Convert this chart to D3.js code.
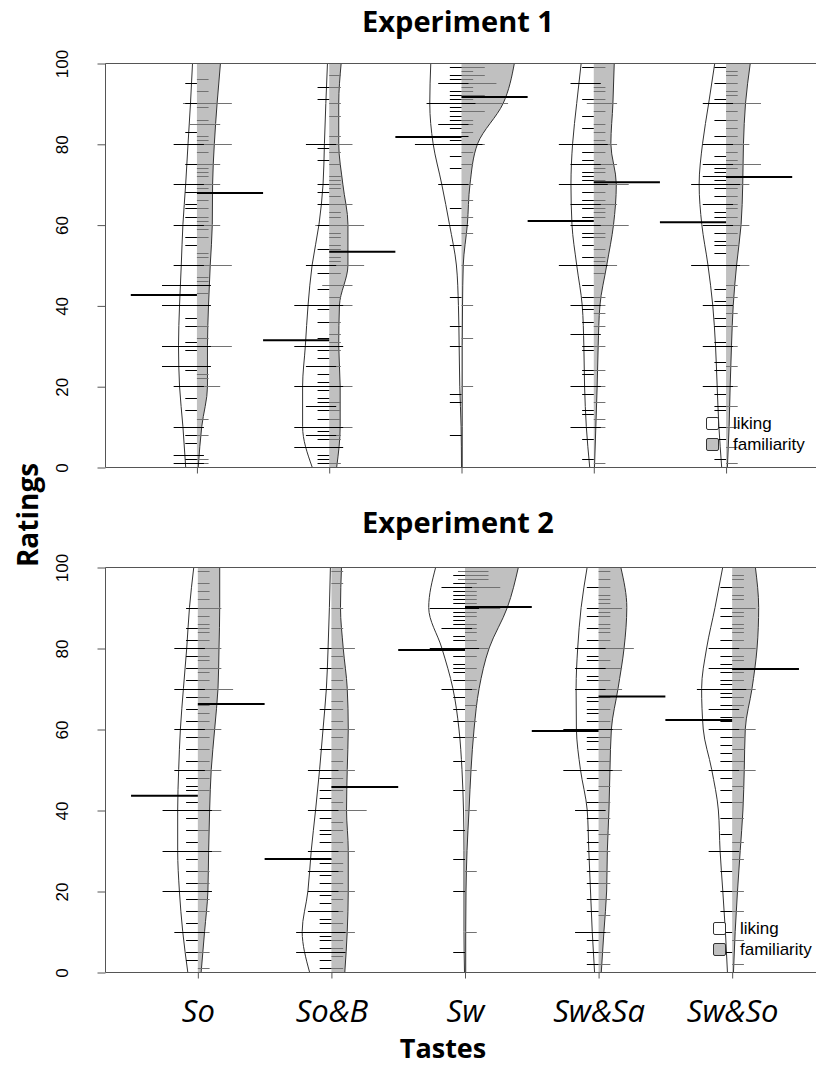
<!DOCTYPE html>
<html>
<head>
<meta charset="UTF-8">
<title>Liking and familiarity beanplots</title>
<script src="https://d3js.org/d3.v7.min.js"></script>
<style>
  body { margin: 0; background: #fff; }
  .title, .axis-title { font-family: "Open Sans", sans-serif; font-weight: bold; fill: #000; }
  .taste { font-family: "Open Sans", sans-serif; font-style: italic; fill: #000; }
  .tick-label, .legend-text { font-family: "Liberation Sans", Arial, sans-serif; fill: #000; }
</style>
</head>
<body>
<div id="chart"></div>
<script>
var tastes = ["So", "So&B", "Sw", "Sw&Sa", "Sw&So"];
var yTicks = [0, 20, 40, 60, 80, 100];
// rating levels where the bean densities were read
var levels = [0, 10, 20, 30, 40, 50, 60, 70, 80, 90, 100];

// ---- Experiment 1 ----
// density (x1000) of each taste at the rating levels
var exp1LikingDens = [
  [11, 13.7, 17, 18, 17, 15.3, 13.7, 11, 8.7, 6.3, 4.3],
  [16.7, 26, 26, 23.3, 20.7, 16.7, 10, 6, 4.7, 3.3, 1.7],
  [0, 0.4, 1.7, 2.3, 3, 5, 11.7, 19.3, 27.7, 31, 30],
  [4, 7.3, 9, 9.7, 11.3, 16.7, 21.3, 22.3, 20.7, 16.7, 12.3],
  [4.3, 7, 8.7, 10.3, 13, 17.7, 23.7, 26.3, 23, 17, 11]
];
var exp1FamDens = [
  [1.3, 4.7, 10.3, 10.3, 11.3, 13, 15, 15.3, 17, 19.7, 23],
  [7.3, 10.7, 10.7, 9.3, 10, 18.3, 18.3, 13.3, 9.3, 9.3, 11.7],
  [0.7, 0.7, 0.7, 0.7, 1, 1.7, 5.7, 8.3, 15.7, 40.7, 51.7],
  [0.7, 2, 3.3, 4.3, 6, 12.7, 19.3, 22, 16.7, 18.7, 20],
  [1.3, 3, 4, 5.3, 7, 10.3, 14.7, 16.3, 17, 19, 23.7]
];
var exp1LikingMean = [42.6, 31.4, 81.7, 60.9, 60.6];
var exp1FamMean = [67.8, 53.3, 91.6, 70.5, 71.8];
var exp1Liking = [
  [1, 1, 2, 3, 3, 6, 8, 10, 10, 14, 17, 20, 20, 24, 25, 25, 25, 29, 30, 30, 30, 31, 35, 37, 40, 40, 40, 45, 45, 45, 50, 50, 55, 57, 60, 60, 62, 64, 65, 68, 70, 70, 75, 80, 80, 83, 90, 95],
  [1, 2, 3, 5, 5, 5, 7, 8, 8, 9, 10, 10, 10, 12, 14, 15, 15, 16, 17, 19, 20, 20, 20, 21, 23, 25, 25, 27, 29, 30, 30, 30, 32, 36, 39, 40, 40, 40, 44, 48, 50, 50, 54, 60, 65, 68, 70, 76, 79, 80, 80, 91, 94],
  [8, 16, 18, 30, 35, 42, 55, 60, 60, 64, 70, 70, 74, 77, 80, 80, 80, 80, 81, 82, 82, 84, 85, 85, 86, 87, 88, 89, 90, 90, 90, 91, 92, 93, 95, 95, 96, 97, 99, 100, 100, 100],
  [2, 7, 10, 10, 13, 14, 18, 20, 20, 23, 24, 29, 30, 33, 33, 36, 39, 40, 40, 42, 45, 50, 50, 50, 52, 55, 57, 58, 60, 60, 62, 64, 65, 65, 66, 68, 70, 70, 70, 71, 72, 73, 75, 75, 76, 78, 80, 80, 80, 84, 87, 91, 95, 95, 99],
  [2, 7, 10, 14, 15, 18, 20, 20, 24, 26, 30, 30, 31, 35, 37, 40, 40, 41, 44, 50, 50, 50, 53, 55, 56, 58, 60, 60, 62, 63, 65, 65, 67, 69, 70, 70, 70, 71, 72, 72, 73, 74, 75, 75, 77, 80, 80, 82, 86, 90, 90, 91, 95, 99]
];
var exp1Fam = [
  [1, 2, 8, 12, 20, 20, 22, 23, 25, 30, 30, 30, 32, 35, 43, 46, 47, 50, 50, 50, 52, 53, 57, 59, 60, 60, 61, 62, 64, 66, 69, 70, 70, 72, 73, 74, 75, 75, 78, 80, 80, 80, 81, 82, 85, 85, 86, 89, 90, 90, 90, 93, 96, 100],
  [1, 5, 7, 8, 10, 10, 12, 14, 16, 20, 20, 25, 29, 30, 31, 33, 36, 40, 40, 42, 45, 45, 48, 50, 50, 50, 51, 52, 54, 55, 57, 58, 60, 60, 60, 62, 63, 65, 65, 67, 69, 70, 71, 72, 75, 78, 80, 80, 82, 87, 90, 94, 97],
  [20, 32, 40, 50, 58, 62, 66, 70, 75, 78, 80, 80, 83, 85, 86, 88, 88, 90, 90, 90, 90, 91, 92, 92, 93, 94, 95, 95, 95, 96, 97, 97, 98, 99, 99, 100, 100, 100, 100],
  [1, 10, 12, 16, 20, 24, 30, 35, 38, 40, 42, 48, 50, 50, 51, 52, 54, 57, 58, 60, 60, 60, 62, 63, 64, 65, 65, 66, 68, 70, 70, 70, 71, 73, 74, 75, 75, 78, 80, 80, 81, 83, 85, 88, 90, 90, 91, 93, 94, 99],
  [1, 5, 10, 15, 20, 25, 30, 35, 38, 42, 45, 50, 50, 55, 58, 60, 60, 62, 64, 65, 67, 69, 70, 70, 72, 74, 75, 75, 75, 76, 78, 80, 80, 82, 84, 86, 88, 90, 90, 90, 92, 93, 95, 97, 98, 100, 100]
];

// ---- Experiment 2 ----
var exp2LikingDens = [
  [10, 15, 18.3, 20, 20, 19, 17.3, 14.3, 11, 8.3, 4],
  [21.7, 29, 23.3, 20, 15.7, 11.7, 8.3, 5, 3.3, 2, 1],
  [0.5, 1, 1, 1, 1.5, 3, 6, 12, 23, 36, 29],
  [4, 6.3, 8, 9.7, 11.3, 18, 22, 22.3, 20.7, 17.3, 11.3],
  [4.7, 6.7, 9.3, 12, 13.7, 20.3, 28.7, 30.3, 25.3, 17, 9.3]
];
var exp2FamDens = [
  [3.3, 6.7, 10, 10.7, 11.7, 13.3, 16.7, 20, 21, 21.7, 21.7],
  [13.3, 15.7, 16.7, 16.7, 15, 15.7, 16.7, 15.7, 11.7, 9, 10],
  [0.7, 0.7, 1, 2, 4, 6, 9, 14, 24, 42, 53],
  [2.7, 5.3, 8, 8.7, 10.3, 11.3, 12.7, 19.3, 25.3, 28, 22],
  [1.3, 3, 5.3, 8, 10.7, 12, 13, 19.7, 24.7, 26.3, 23]
];
var exp2LikingMean = [43.5, 27.9, 79.5, 59.5, 62.2];
var exp2FamMean = [66.2, 45.7, 90.1, 68, 74.8];
var exp2Liking = [
  [3, 5, 8, 10, 10, 12, 15, 18, 20, 20, 20, 22, 25, 28, 30, 30, 30, 32, 35, 38, 40, 40, 40, 42, 45, 46, 48, 50, 50, 52, 55, 58, 60, 60, 62, 65, 68, 70, 70, 72, 75, 78, 80, 80, 82, 85, 90],
  [1, 3, 5, 5, 5, 6, 8, 9, 10, 10, 10, 12, 13, 15, 15, 17, 19, 20, 20, 22, 24, 25, 25, 27, 28, 30, 30, 32, 34, 35, 38, 40, 40, 43, 45, 48, 50, 50, 55, 60, 65, 70, 75, 80],
  [5, 20, 28, 35, 45, 52, 58, 62, 65, 68, 70, 70, 72, 74, 75, 76, 78, 80, 80, 80, 82, 83, 85, 85, 86, 87, 88, 89, 90, 90, 90, 91, 92, 93, 94, 95, 95, 96, 98, 100],
  [2, 5, 8, 10, 10, 15, 18, 22, 25, 28, 30, 32, 35, 38, 40, 40, 42, 45, 48, 50, 50, 50, 52, 55, 57, 58, 60, 60, 60, 62, 64, 65, 67, 68, 70, 70, 72, 73, 75, 75, 77, 78, 80, 80, 82, 85, 88, 90, 95],
  [5, 10, 15, 20, 25, 30, 30, 34, 38, 42, 45, 48, 50, 50, 52, 54, 56, 58, 60, 60, 62, 63, 65, 65, 66, 68, 69, 70, 70, 70, 71, 72, 74, 75, 75, 76, 78, 80, 80, 82, 85, 88, 90, 95]
];
var exp2Fam = [
  [1, 5, 10, 15, 18, 20, 22, 25, 30, 30, 35, 40, 40, 45, 48, 50, 50, 52, 55, 58, 60, 60, 62, 64, 66, 68, 70, 70, 70, 72, 74, 75, 75, 77, 78, 80, 80, 82, 84, 85, 86, 88, 90, 90, 92, 94, 96, 99],
  [1, 4, 6, 8, 10, 10, 12, 15, 18, 20, 20, 22, 25, 27, 30, 30, 32, 35, 37, 40, 40, 40, 42, 45, 48, 50, 50, 52, 55, 58, 60, 60, 62, 65, 67, 70, 70, 72, 75, 78, 80, 80, 85, 90, 96, 99],
  [10, 25, 40, 50, 58, 62, 66, 70, 72, 75, 78, 80, 80, 82, 84, 85, 86, 88, 89, 90, 90, 90, 91, 92, 93, 94, 95, 95, 95, 96, 97, 97, 98, 98, 99, 99, 100, 100, 100, 100],
  [2, 5, 10, 14, 18, 22, 25, 30, 34, 38, 42, 46, 50, 50, 52, 55, 58, 60, 60, 62, 65, 68, 70, 70, 72, 75, 75, 77, 80, 80, 80, 82, 84, 85, 86, 88, 89, 90, 90, 91, 92, 93, 95, 97, 99],
  [2, 8, 15, 20, 28, 32, 38, 42, 46, 50, 50, 52, 55, 58, 60, 60, 63, 66, 68, 70, 70, 72, 74, 75, 75, 75, 77, 78, 80, 80, 82, 84, 85, 86, 88, 89, 90, 90, 92, 93, 95, 97, 98]
];

var width = 816, height = 1067;
var axisColor = "#555";
var famFill = "#c0c0c0";

var svg = d3.select("#chart").append("svg")
    .attr("width", width).attr("height", height);

function drawPanel(p) {
    var x = d3.scaleLinear().domain([0.305, 5.695]).range([p.left, p.right]);
    var y = d3.scaleLinear().domain([0, 100]).range([p.bottom, p.top]);
    var unit = x(1) - x(0);
    var maxDens = d3.max(p.likingDens.concat(p.famDens), function (a) { return d3.max(a); });
    var w = d3.scaleLinear().domain([0, maxDens]).range([0, 0.4 * unit]);
    var ll = 0.088 * unit;

    var g = svg.append("g");

    g.append("text").attr("class", "title")
        .attr("x", p.titleX).attr("y", p.titleY)
        .attr("text-anchor", "middle")
        .style("font-size", "29px")
        .text(p.title);

    var clipId = "clip" + p.id;
    g.append("clipPath").attr("id", clipId)
        .append("rect")
        .attr("x", p.left).attr("y", p.top)
        .attr("width", p.right - p.left).attr("height", p.bottom - p.top);

    var plot = g.append("g").attr("clip-path", "url(#" + clipId + ")");

    tastes.forEach(function (t, i) {
        var cx = x(i + 1);
        var lik = levels.map(function (v, k) { return {v: v, d: p.likingDens[i][k]}; });
        var fam = levels.map(function (v, k) { return {v: v, d: p.famDens[i][k]}; });

        var areaL = d3.area().curve(d3.curveMonotoneY)
            .y(function (d) { return y(d.v); })
            .x0(cx).x1(function (d) { return cx - w(d.d); });
        var areaR = d3.area().curve(d3.curveMonotoneY)
            .y(function (d) { return y(d.v); })
            .x0(cx).x1(function (d) { return cx + w(d.d); });
        var lineL = d3.line().curve(d3.curveMonotoneY)
            .y(function (d) { return y(d.v); })
            .x(function (d) { return cx - w(d.d); });
        var lineR = d3.line().curve(d3.curveMonotoneY)
            .y(function (d) { return y(d.v); })
            .x(function (d) { return cx + w(d.d); });

        plot.append("path").attr("d", areaL(lik)).attr("fill", "#fff");
        plot.append("path").attr("d", areaR(fam)).attr("fill", famFill);
        plot.append("path").attr("d", lineL(lik))
            .attr("fill", "none").attr("stroke", "#333").attr("stroke-width", 1);
        plot.append("path").attr("d", lineR(fam))
            .attr("fill", "none").attr("stroke", "#333").attr("stroke-width", 1);

        // bean lines: repeated ratings give longer lines
        var famCounts = Array.from(d3.rollup(p.fam[i], function (v) { return v.length; }, function (d) { return d; }));
        var likCounts = Array.from(d3.rollup(p.liking[i], function (v) { return v.length; }, function (d) { return d; }));

        plot.selectAll(null).data(famCounts).enter().append("line")
            .attr("x1", function (d) { return cx - ll * (Math.min(d[1], 5) - 1) * 0.6; })
            .attr("x2", function (d) { return cx + ll * Math.min(d[1], 5); })
            .attr("y1", function (d) { return Math.round(y(d[0])) + 0.5; })
            .attr("y2", function (d) { return Math.round(y(d[0])) + 0.5; })
            .attr("stroke", "#727272").attr("stroke-width", 1);

        plot.selectAll(null).data(likCounts).enter().append("line")
            .attr("x1", function (d) { return cx - ll * Math.min(d[1], 5); })
            .attr("x2", function (d) { return cx + ll * (Math.min(d[1], 5) - 1) * 0.6; })
            .attr("y1", function (d) { return Math.round(y(d[0])) + 0.5; })
            .attr("y2", function (d) { return Math.round(y(d[0])) + 0.5; })
            .attr("stroke", "#000").attr("stroke-width", 1);

        // mean lines
        plot.append("line")
            .attr("x1", cx - 0.5 * unit).attr("x2", cx)
            .attr("y1", y(p.likingMean[i])).attr("y2", y(p.likingMean[i]))
            .attr("stroke", "#000").attr("stroke-width", 2);
        plot.append("line")
            .attr("x1", cx).attr("x2", cx + 0.5 * unit)
            .attr("y1", y(p.famMean[i])).attr("y2", y(p.famMean[i]))
            .attr("stroke", "#000").attr("stroke-width", 2);
    });

    // frame (right side falls outside the page)
    g.append("path")
        .attr("d", "M" + p.right + "," + (p.top + 0.5) + "H" + (p.left + 0.5) +
                   "V" + (p.bottom + 0.5) + "H" + p.right)
        .attr("fill", "none").attr("stroke", axisColor).attr("stroke-width", 1);

    // y axis
    var yAxis = d3.axisLeft(y).tickValues(yTicks).tickSize(8).tickSizeOuter(0);
    var ya = g.append("g").attr("transform", "translate(" + (p.left + 0.5) + ",0.5)").call(yAxis);
    ya.select(".domain").remove();
    ya.selectAll(".tick line").attr("stroke", axisColor);
    ya.selectAll(".tick text")
        .attr("class", "tick-label")
        .attr("x", null).attr("dy", "0.35em")
        .attr("transform", "translate(-43,0) rotate(-90)")
        .attr("text-anchor", "middle")
        .style("font-size", "17px").attr("font-family", null);

    // x ticks
    var xAxis = d3.axisBottom(x).tickValues([1, 2, 3, 4, 5]).tickSize(6).tickSizeOuter(0)
        .tickFormat(function (d) { return p.showTastes ? tastes[d - 1] : ""; });
    var xa = g.append("g").attr("transform", "translate(0," + (p.bottom + 0.5) + ")").call(xAxis);
    xa.select(".domain").remove();
    xa.selectAll(".tick line").attr("stroke", axisColor);
    xa.selectAll(".tick text")
        .attr("class", "taste")
        .attr("y", 39).attr("dy", "0.35em")
        .style("font-size", "31px").attr("font-family", null);

    // legend
    var lx = p.right - 112, ly = p.bottom - 50;
    var legend = [{label: "liking", fill: "#fff"}, {label: "familiarity", fill: famFill}];
    legend.forEach(function (d, k) {
        g.append("rect")
            .attr("x", lx + 0.5).attr("y", ly + k * 21 + 0.5)
            .attr("width", 12).attr("height", 12).attr("rx", 1.5)
            .attr("fill", d.fill).attr("stroke", "#333");
        g.append("text").attr("class", "legend-text")
            .attr("x", lx + 27).attr("y", ly + k * 21 + 6)
            .attr("dy", "0.35em")
            .style("font-size", "17px")
            .text(d.label);
    });
}

drawPanel({
    id: 1, title: "Experiment 1", titleX: 458, titleY: 32,
    top: 63, bottom: 467, left: 105, right: 818, showTastes: false,
    likingDens: exp1LikingDens, famDens: exp1FamDens,
    likingMean: exp1LikingMean, famMean: exp1FamMean,
    liking: exp1Liking, fam: exp1Fam
});
drawPanel({
    id: 2, title: "Experiment 2", titleX: 458, titleY: 533,
    top: 567, bottom: 972, left: 105, right: 825, showTastes: true,
    likingDens: exp2LikingDens, famDens: exp2FamDens,
    likingMean: exp2LikingMean, famMean: exp2FamMean,
    liking: exp2Liking, fam: exp2Fam
});

svg.append("text").attr("class", "axis-title")
    .attr("x", 443).attr("y", 1058)
    .attr("text-anchor", "middle")
    .style("font-size", "27px")
    .text("Tastes");

svg.append("text").attr("class", "axis-title")
    .attr("transform", "translate(38,515) rotate(-90)")
    .attr("text-anchor", "middle")
    .style("font-size", "28px")
    .text("Ratings");
</script>
</body>
</html>
